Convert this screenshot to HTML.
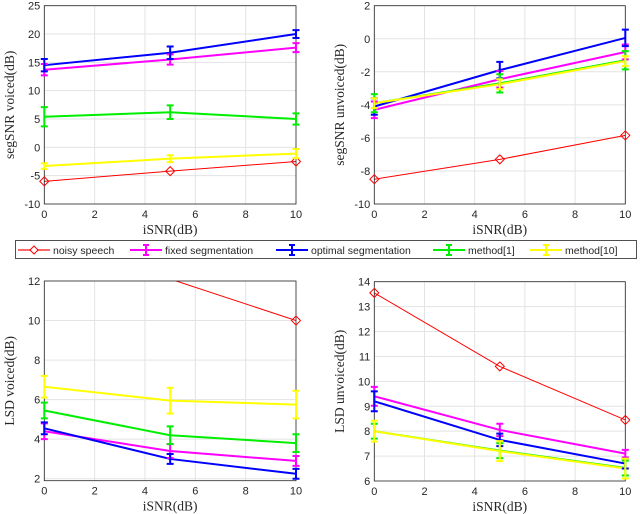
<!DOCTYPE html>
<html><head><meta charset="utf-8"><style>
body{margin:0;background:#fff;width:640px;height:514px;overflow:hidden}
svg{display:block}
text{font-family:"Liberation Sans",sans-serif;font-size:11px;fill:#262626}
.lab{font-family:"Liberation Serif",serif;font-size:13.5px;fill:#262626}
</style></head><body>
<svg id="c" width="640" height="514"></svg>
<script>
const xVals=[0,5,10];
const xTicks=[0,2,4,6,8,10];
const seriesNames=["noisy speech","fixed segmentation","optimal segmentation","method[1]","method[10]"];
const seriesColors=["#ff0000","#ff00ff","#0000ff","#00ee00","#ffff00"];
// top-left: segSNR voiced
const tlVals=[[-6,-4.2,-2.5],[13.7,15.5,17.6],[14.5,16.7,20],[5.4,6.2,5.0],[-3.3,-2,-1.1]];
const tlErr=[[0,0,0],[1,0.9,0.8],[1.1,1.1,0.7],[1.7,1.2,1.0],[0.5,0.6,0.8]];
const tlTicks=[-10,-5,0,5,10,15,20,25];
// top-right: segSNR unvoiced
const trVals=[[-8.5,-7.3,-5.85],[-4.3,-2.45,-0.8],[-4.1,-1.9,0.05],[-3.9,-2.7,-1.3],[-3.9,-2.75,-1.35]];
const trErr=[[0,0,0],[0.5,0.5,0.45],[0.5,0.5,0.5],[0.55,0.55,0.55],[0.3,0.3,0.3]];
const trTicks=[-10,-8,-6,-4,-2,0,2];
// bottom-left: LSD voiced
const blVals=[[14.5,12.1,10],[4.4,3.4,2.9],[4.55,3.0,2.25],[5.45,4.2,3.8],[6.65,5.95,5.75]];
const blErr=[[0,0,0],[0.4,0.35,0.25],[0.3,0.25,0.25],[0.4,0.45,0.45],[0.55,0.65,0.7]];
const blTicks=[2,4,6,8,10,12];
// bottom-right: LSD unvoiced
const brVals=[[13.55,10.6,8.45],[9.4,8.05,7.1],[9.2,7.65,6.7],[8.0,7.22,6.52],[8.0,7.2,6.5]];
const brErr=[[0,0,0],[0.38,0.25,0.15],[0.4,0.25,0.2],[0.3,0.3,0.3],[0.42,0.4,0.4]];
const brTicks=[6,7,8,9,10,11,12,13,14];

const NS="http://www.w3.org/2000/svg";
const svg=document.getElementById('c');
function mk(tag,attrs,parent){const e=document.createElementNS(NS,tag);for(const k in attrs)e.setAttribute(k,attrs[k]);(parent||svg).appendChild(e);return e;}

function plot(id,L,R,T,B,ymin,ymax,yticks,vals,errs,ylabel,ylabX){
  const g=mk('g',{});
  
  
  const sx=v=>L+(v-0)/(10-0)*(R-L);
  const sy=v=>B-(v-ymin)/(ymax-ymin)*(B-T);
  const cp=mk('clipPath',{id:'cp-'+id},g);
  mk('rect',{x:L,y:T,width:R-L,height:B-T},cp);
  xTicks.forEach(t=>{
    const l=mk('line',{x1:sx(t),x2:sx(t),y1:T,y2:B,stroke:'#e3e3e3','stroke-width':1},g);
    
    
    const tx=mk('text',{x:sx(t),y:B+14,'text-anchor':'middle'},g);tx.textContent=t;
    
    
  });
  yticks.forEach(t=>{
    const l=mk('line',{x1:L,x2:R,y1:sy(t),y2:sy(t),stroke:'#e3e3e3','stroke-width':1},g);
    
    
    const tx=mk('text',{x:L-4,y:sy(t)+4,'text-anchor':'end'},g);tx.textContent=t;
    
    
  });
  const dg=mk('g',{'clip-path':'url(#cp-'+id+')'},g);
  const eg=mk('g',{},g);
  [0,1,2,3,4].forEach(s=>{
    const c=seriesColors[s];
    const pts=xVals.map((x,i)=>sx(x)+','+sy(vals[s][i])).join(' ');
    const pl=mk('polyline',{points:pts,fill:'none',stroke:c,'stroke-width':s==0?1:2},dg);
    
    
    xVals.forEach((x,i)=>{
      const px=sx(x),py=sy(vals[s][i]);
      if(s==0){
        if(vals[s][i]>ymax||vals[s][i]<ymin)return;
        const d=mk('polygon',{points:`${px},${py-4.5} ${px+4.5},${py} ${px},${py+4.5} ${px-4.5},${py}`,fill:'none',stroke:c,'stroke-width':1},eg);
        
        
      }else{
        const e=errs[s][i],y1=sy(vals[s][i]+e),y2=sy(vals[s][i]-e);
        const eb=mk('path',{d:`M${px},${y1}V${y2}M${px-3.5},${y1}H${px+3.5}M${px-3.5},${y2}H${px+3.5}`,stroke:c,'stroke-width':2,fill:'none'},eg);
        
        
      }
    });
  });
  const box=mk('rect',{x:L,y:T,width:R-L,height:B-T,fill:'none',stroke:'#262626','stroke-width':0.8},g);
  
  
  g.insertBefore(box,eg);
  const xl=mk('text',{x:(L+R)/2,y:B+30,'text-anchor':'middle',class:'lab'},g);xl.textContent='iSNR(dB)';
  
  
  const yl=mk('text',{x:ylabX,y:(T+B)/2,'text-anchor':'middle',class:'lab',transform:`rotate(-90 ${ylabX} ${(T+B)/2})`},g);yl.textContent=ylabel;
  
  
}
plot('seg-voiced',44.3,296,5.7,204,-10,25,tlTicks,tlVals,tlErr,'segSNR voiced(dB)',14);
plot('seg-unvoiced',374.3,625.3,5.7,204,-10,2,trTicks,trVals,trErr,'segSNR unvoiced(dB)',344);
plot('lsd-voiced',44.3,296,281,480.7,1.9,12,blTicks,blVals,blErr,'LSD voiced(dB)',14);
plot('lsd-unvoiced',374.3,625.3,281.7,481,6,14,brTicks,brVals,brErr,'LSD unvoiced(dB)',344);

// legend
const lg=mk('g',{});


mk('rect',{x:15.5,y:240.5,width:621,height:18,fill:'#fff',stroke:'#262626','stroke-width':0.8},lg);
const lx=[18,130,276,433,530];
seriesNames.forEach((n,s)=>{
  const eg=mk('g',{},lg);
  
  
  const x0=lx[s],cy=250,c=seriesColors[s];
  mk('line',{x1:x0,x2:x0+32,y1:cy,y2:cy,stroke:s==0?'#ff6666':c,'stroke-width':2},eg);
  const m=x0+16;
  if(s==0)mk('polygon',{points:`${m},${cy-4} ${m+4},${cy} ${m},${cy+4} ${m-4},${cy}`,fill:'#fff',stroke:c,'stroke-width':1},eg);
  else mk('path',{d:`M${m},${cy-5}V${cy+5}M${m-3},${cy-5}H${m+3}M${m-3},${cy+5}H${m+3}`,stroke:c,'stroke-width':2},eg);
  const t=mk('text',{x:x0+35,y:cy+4,style:'font-size:10.5px'},eg);t.textContent=n;
});
</script>
</body></html>
